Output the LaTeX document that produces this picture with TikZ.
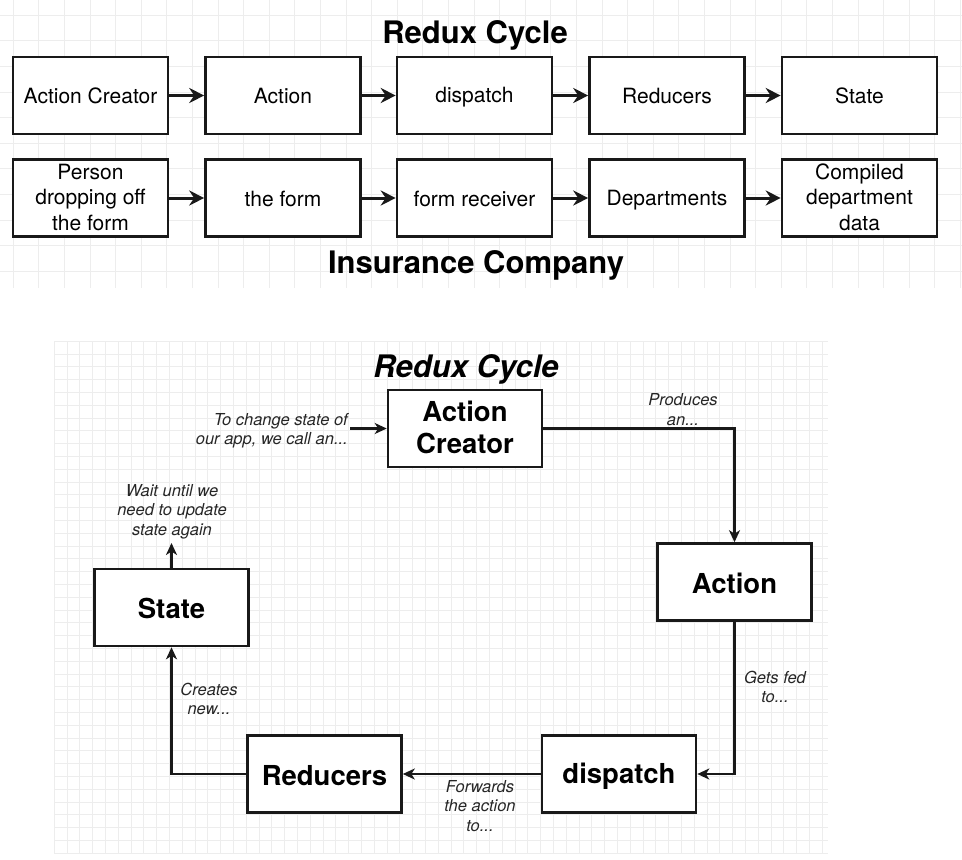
\documentclass[tikz,border=0pt]{standalone}
\usepackage{fontspec}
\setmainfont{TeX Gyre Heros}
\usetikzlibrary{arrows.meta}
\newcommand\bstrut{\rule[-0.1em]{0pt}{1.0em}}
\begin{document}
\begin{tikzpicture}[x=1pt,y=-1pt,
  topbox/.style={draw=black!90,line width=2.6pt,fill=white,minimum width=155pt,minimum height=77pt,inner sep=0pt,align=center,font=\fontsize{21}{25.5}\selectfont,execute at begin node=\bstrut,execute at end node=\bstrut},
  cycbox/.style={draw=black!90,line width=2.6pt,fill=white,minimum width=154pt,minimum height=77pt,inner sep=0pt,align=center,font=\fontsize{27.5}{32}\selectfont\bfseries,execute at begin node=\bstrut,execute at end node=\bstrut},
  toparrow/.style={line width=3pt,draw=black!90,-{Stealth[length=15pt,width=15pt,inset=5pt]}},
  cycarrow/.style={line width=2.3pt,draw=black!90,-{Stealth[length=12pt,width=11pt,inset=3.5pt]}},
  lbl/.style={inner sep=0pt,align=center,font=\fontsize{16.5}{19.5}\selectfont\itshape,text=black!85},
  ttl/.style={anchor=base,inner sep=0pt,font=\fontsize{31}{34}\selectfont\bfseries},
  gridline/.style={draw=black!7,line width=0.6pt}
]
\useasboundingbox (0,0) rectangle (962,860);
\fill[white] (0,0) rectangle (962,860);
% grids
\begin{scope}
\clip (0,0) rectangle (962,288);
\foreach \i in {0,...,38} {\draw[gridline] ({13+25.6*\i},0) -- ({13+25.6*\i},288);}
\foreach \j in {0,...,11} {\draw[gridline] (0,{15+25.6*\j}) -- (962,{15+25.6*\j});}
\end{scope}
\begin{scope}
\clip (54,341) rectangle (828,853);
\foreach \i in {0,...,60} {\draw[gridline] ({54+12.8*\i},341) -- ({54+12.8*\i},853);}
\foreach \j in {0,...,40} {\draw[gridline] (54,{341+12.8*\j}) -- (828,{341+12.8*\j});}
\end{scope}

% top panel
\node[ttl] (t1) at (475,43) {Redux Cycle};
\node[topbox] (a1) at (90.5,95.5) {Action Creator};
\node[topbox] (a2) at (283,95.5) {Action};
\node[topbox] (a3) at (474.5,95.5) {dispatch};
\node[topbox] (a4) at (667,95.5) {Reducers};
\node[topbox] (a5) at (859.5,95.5) {State};
\node[topbox] (b1) at (90.5,198) {Person\\dropping off\\the form};
\node[topbox] (b2) at (283,198) {the form};
\node[topbox] (b3) at (474.5,198) {form receiver};
\node[topbox] (b4) at (667,198) {Departments};
\node[topbox] (b5) at (859.5,198) {Compiled\\department\\data};
\node[ttl] (t2) at (476,273) {Insurance Company};
\foreach \p/\q in {a1/a2,a2/a3,a3/a4,a4/a5,b1/b2,b2/b3,b3/b4,b4/b5} {\draw[toparrow] (\p.east) -- (\q.west);}

% bottom panel
\node[ttl,font=\fontsize{31}{34}\selectfont\bfseries\itshape] (t3) at (466,377) {Redux Cycle};
\node[cycbox] (ac) at (465,428.5) {Action\\Creator};
\node[cycbox] (act) at (734.5,582) {Action};
\node[cycbox] (dis) at (619,774) {dispatch};
\node[cycbox] (red) at (324.5,774) {Reducers};
\node[cycbox] (st) at (171.5,607.5) {State};
\coordinate (start) at (350,428.5);
\coordinate (wait) at (171.5,543);
\draw[cycarrow] (start) -- (ac.west);
\draw[cycarrow] (ac.east) -| (act.north);
\draw[cycarrow] (act.south) |- (dis.east);
\draw[cycarrow] (dis.west) -- (red.east);
\draw[cycarrow] (red.west) -| (st.south);
\draw[cycarrow] (st.north) -- (wait);
\node[lbl,anchor=east,align=right] (l1) at (348,430.5) {To change state of\\our app, we call an...};
\node[lbl] (l2) at (683,409.5) {Produces\\an...};
\node[lbl] (l3) at (775,687) {Gets fed\\to...};
\node[lbl] (l4) at (480,806) {Forwards\\the action\\to...};
\node[lbl] (l5) at (209,699) {Creates\\new...};
\node[lbl] (l6) at (172,511.5) {Wait until we\\need to update\\state again};
\end{tikzpicture}
\end{document}
